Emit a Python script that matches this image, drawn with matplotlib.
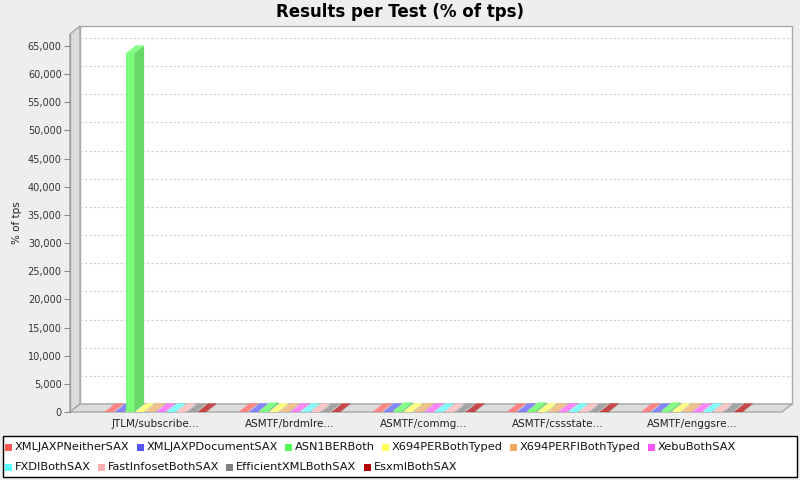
import matplotlib
matplotlib.use("Agg")
import matplotlib.pyplot as plt
from matplotlib.patches import Polygon, Rectangle
import matplotlib.colors as mcolors
import numpy as np

# ---------------- data ----------------
categories = ["JTLM/subscribe...", "ASMTF/brdmlre...", "ASMTF/commg...",
              "ASMTF/cssstate...", "ASMTF/enggsre..."]
series_names = ["XMLJAXPNeitherSAX", "XMLJAXPDocumentSAX", "ASN1BERBoth",
                "X694PERBothTyped", "X694PERFIBothTyped", "XebuBothSAX",
                "FXDIBothSAX", "FastInfosetBothSAX", "EfficientXMLBothSAX",
                "EsxmlBothSAX"]
series_colors = ["#FF5555", "#5555FF", "#55FF55", "#FFFF55", "#F0A860",
                 "#FF55FF", "#55FFFF", "#FFAFAF", "#808080", "#B00000"]
XMLJAXPNeitherSAX = [100, 100, 100, 100, 100]
XMLJAXPDocumentSAX = [100, 100, 100, 100, 100]
ASN1BERBoth = [63700, 300, 300, 300, 300]
X694PERBothTyped = [150, 150, 150, 150, 150]
X694PERFIBothTyped = [150, 150, 150, 150, 150]
XebuBothSAX = [100, 100, 100, 100, 100]
FXDIBothSAX = [100, 100, 100, 100, 100]
FastInfosetBothSAX = [100, 100, 100, 100, 100]
EfficientXMLBothSAX = [100, 100, 100, 100, 100]
EsxmlBothSAX = [100, 100, 100, 100, 100]
values = [XMLJAXPNeitherSAX, XMLJAXPDocumentSAX, ASN1BERBoth, X694PERBothTyped,
          X694PERFIBothTyped, XebuBothSAX, FXDIBothSAX, FastInfosetBothSAX,
          EfficientXMLBothSAX, EsxmlBothSAX]
yticks = list(range(0, 65001, 5000))
title = "Results per Test (% of tps)"
ylabel = "% of tps"

# ---------------- layout ----------------
W, H = 800, 480
fig = plt.figure(figsize=(W / 100, H / 100), dpi=100, facecolor="#EEEEEE")

front_left, front_right = 70, 782
front_top, front_bottom = 34, 412
DX, DY = 10, 8  # 3D depth in pixels

ax = fig.add_axes([front_left / W, (H - front_bottom) / H,
                   (front_right - front_left) / W, (front_bottom - front_top) / H])
ymax = 65000 * (front_bottom - front_top) / (front_bottom - 46)
xlo, xhi = -0.64, 4.67
ax.set_xlim(xlo, xhi)
ax.set_ylim(0, ymax)
ax.patch.set_visible(False)
for s in ax.spines.values():
    s.set_visible(False)

pw = front_right - front_left
ph = front_bottom - front_top
dxa, dya = DX / pw, DY / ph
dxd, dyd = DX * (xhi - xlo) / pw, DY * ymax / ph

wall_col = "#DCDCDC"
edge_col = "#A8A8A8"
# back wall
ax.add_patch(Rectangle((dxa, dya), 1, 1, transform=ax.transAxes, facecolor="white",
                       edgecolor=edge_col, lw=1.0, zorder=0, clip_on=False))
# left wall
ax.add_patch(Polygon([(0, 0), (0, 1), (dxa, 1 + dya), (dxa, dya)], closed=True,
                     transform=ax.transAxes, facecolor=wall_col, edgecolor=edge_col,
                     lw=1.0, zorder=0.5, clip_on=False))
# floor
ax.add_patch(Polygon([(0, 0), (1, 0), (1 + dxa, dya), (dxa, dya)], closed=True,
                     transform=ax.transAxes, facecolor=wall_col, edgecolor=edge_col,
                     lw=1.0, zorder=0.5, clip_on=False))

# gridlines on back wall
for t in yticks[1:]:
    ax.plot([xlo + dxd, xhi + dxd], [t + dyd, t + dyd], color="#CFCFCF", lw=0.8,
            ls=(0, (2, 2)), zorder=0.3, clip_on=False)

# y axis
ax.yaxis.set_ticks_position("left")
ax.set_yticks(yticks)
ax.set_yticklabels([f"{v:,}" for v in yticks], fontsize=7, color="#333333")
ax.tick_params(axis="y", length=4, width=0.8, color="#888888", pad=2)
ax.plot([0, 0], [0, 1], transform=ax.transAxes, color="#A0A0A0", lw=1.0,
        clip_on=False, zorder=1)
ax.set_ylabel(ylabel, fontsize=7.5, color="#222222", labelpad=4)

# x axis
ax.set_xticks(range(len(categories)))
ax.set_xticklabels(categories, fontsize=7.5, color="#222222")
ax.tick_params(axis="x", length=0, pad=5)

# bars
n = len(series_names)
group = 0.77
slot = group / n
bw = slot * 0.8
for j, (vals, col) in enumerate(zip(values, series_colors)):
    base = np.array(mcolors.to_rgb(col))
    front = base * 0.78 + 0.22  # lighter (alpha effect)
    side = front * 0.85
    top = front * 0.92 + 0.08
    for i, v in enumerate(vals):
        x0 = i - group / 2 + j * slot + (slot - bw) / 2
        x1 = x0 + bw
        ax.add_patch(Polygon([(x1, 0), (x1, v), (x1 + dxd, v + dyd), (x1 + dxd, dyd)],
                             closed=True, facecolor=side, edgecolor="none",
                             zorder=2, clip_on=False))
        ax.add_patch(Polygon([(x0, v), (x1, v), (x1 + dxd, v + dyd), (x0 + dxd, v + dyd)],
                             closed=True, facecolor=top, edgecolor="none",
                             zorder=2, clip_on=False))
        ax.add_patch(Rectangle((x0, 0), bw, v, facecolor=front, edgecolor="none",
                               zorder=2.1, clip_on=False))

# title
fig.text(0.5, 1 - 12 / H, title, ha="center", va="center", fontsize=12,
         fontweight="bold", family=["Liberation Sans Narrow", "DejaVu Sans"],
         color="black")

# legend (flow layout, JFreeChart style)
leg_top, leg_bot = 436, 477
fig.patches.append(Rectangle((3 / W, 1 - leg_bot / H), 794 / W, (leg_bot - leg_top) / H,
                             transform=fig.transFigure, facecolor="white",
                             edgecolor="black", lw=1.0, zorder=1))
renderer = fig.canvas.get_renderer()
rows_y = [447, 467]
x = 5
row = 0
max_x = 790
for name, col in zip(series_names, series_colors):
    t = fig.text(0, 0, name, fontsize=8.2, va="center", ha="left", color="#111111",
                 zorder=3)
    tw = t.get_window_extent(renderer).width
    item_w = 7 + 3 + tw
    if x + item_w > max_x:
        row += 1
        x = 5
    yc = rows_y[row]
    fig.patches.append(Rectangle((x / W, 1 - (yc + 3.5) / H), 7 / W, 7 / H,
                                 transform=fig.transFigure, facecolor=col,
                                 edgecolor="none", zorder=3))
    t.set_position(((x + 10) / W, 1 - yc / H))
    x += item_w + 7

fig.savefig("out.png", dpi=100, facecolor=fig.get_facecolor())
